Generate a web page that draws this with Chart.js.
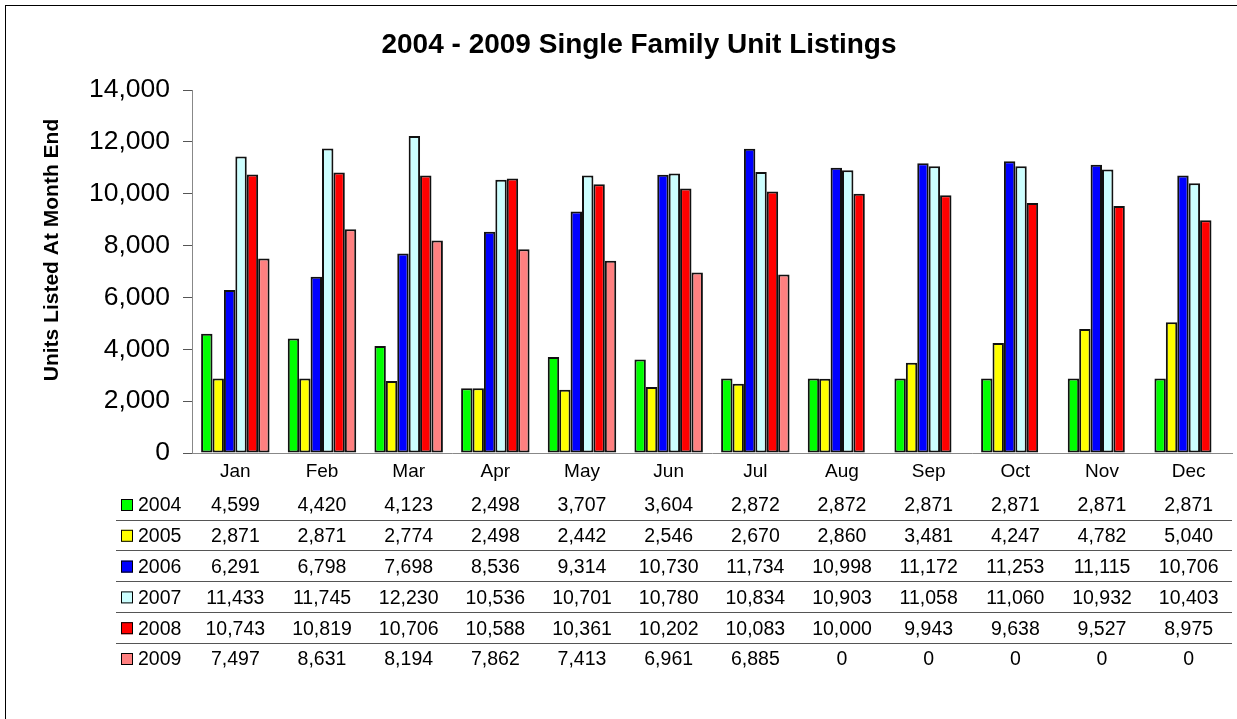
<!DOCTYPE html>
<html>
<head>
<meta charset="utf-8">
<script src="https://cdn.jsdelivr.net/npm/chart.js@4"></script>
<style>
  html, body { margin: 0; padding: 0; background: #fff; }
  #wrap { width: 1237px; height: 719px; position: relative; }
</style>
</head>
<body>
<div id="wrap"><canvas id="c" width="1237" height="719"></canvas></div>
<script>
const months = ['Jan','Feb','Mar','Apr','May','Jun','Jul','Aug','Sep','Oct','Nov','Dec'];
const years = ['2004','2005','2006','2007','2008','2009'];
const y2004 = [4599,4420,4123,2498,3707,3604,2872,2872,2871,2871,2871,2871];
const y2005 = [2871,2871,2774,2498,2442,2546,2670,2860,3481,4247,4782,5040];
const y2006 = [6291,6798,7698,8536,9314,10730,11734,10998,11172,11253,11115,10706];
const y2007 = [11433,11745,12230,10536,10701,10780,10834,10903,11058,11060,10932,10403];
const y2008 = [10743,10819,10706,10588,10361,10202,10083,10000,9943,9638,9527,8975];
const y2009 = [7497,8631,8194,7862,7413,6961,6885,0,0,0,0,0];
const yTicks = [0,2000,4000,6000,8000,10000,12000,14000];
const titleText = '2004 - 2009 Single Family Unit Listings';
const yTitleText = 'Units Listed At Month End';

const seriesValues = [y2004, y2005, y2006, y2007, y2008, y2009];
const colors = ['#00FF00','#FFFF00','#0000FF','#CCFFFF','#FF0000','#FF8080'];
const FONT = '"Liberation Sans", Arial, Helvetica, sans-serif';
const fmt = v => v.toLocaleString('en-US');

const tablePlugin = {
  id: 'dataTable',
  afterDraw(chart) {
    const ctx = chart.ctx;
    const xs = chart.scales.x;
    ctx.save();
    // outer frame (left & top visible)
    ctx.strokeStyle = '#000';
    ctx.lineWidth = 1;
    ctx.strokeRect(5.5, 5.5, 1400, 900);
    // y axis title
    ctx.save();
    ctx.translate(52, 250);
    ctx.rotate(-Math.PI / 2);
    ctx.font = 'bold 21px ' + FONT;
    ctx.fillStyle = '#000';
    ctx.textAlign = 'center';
    ctx.textBaseline = 'middle';
    ctx.fillText(yTitleText, 0, 0);
    ctx.restore();
    // table
    const rowTop = 505, rowH = 30.8;
    ctx.font = '19.5px ' + FONT;
    ctx.textBaseline = 'middle';
    chart.data.datasets.forEach((ds, i) => {
      const cy = rowTop + i * rowH;
      // legend key
      ctx.fillStyle = ds.backgroundColor;
      ctx.fillRect(121, cy - 6, 12, 12);
      ctx.strokeStyle = '#000';
      ctx.lineWidth = 1;
      ctx.strokeRect(121.5, cy - 5.5, 11, 11);
      ctx.fillStyle = '#000';
      ctx.textAlign = 'left';
      ctx.fillText(ds.label, 138, cy + 1);
      ctx.textAlign = 'center';
      ds.data.forEach((v, j) => {
        ctx.fillText(fmt(v), xs.getPixelForValue(j), cy + 1);
      });
      if (i < chart.data.datasets.length - 1) {
        const ly = Math.round(cy + 14.5) + 0.5;
        ctx.strokeStyle = '#555';
        ctx.beginPath();
        ctx.moveTo(116, ly);
        ctx.lineTo(1232, ly);
        ctx.stroke();
      }
    });
    ctx.restore();
  }
};

new Chart(document.getElementById('c'), {
  type: 'bar',
  data: {
    labels: months,
    datasets: years.map((y, i) => ({
      label: y,
      data: seriesValues[i],
      backgroundColor: colors[i],
      borderColor: '#111',
      borderWidth: c => (c.raw === 0 ? 0 : 2),
      borderSkipped: false,
      barPercentage: 1,
      categoryPercentage: 0.79
    }))
  },
  options: {
    responsive: false,
    animation: false,
    layout: { padding: { left: 46, top: 0, right: 5, bottom: 0 } },
    plugins: {
      legend: { display: false },
      tooltip: { enabled: false },
      title: {
        display: true,
        text: titleText,
        color: '#000',
        font: { family: FONT, size: 28, weight: 'bold', lineHeight: 1.2 },
        padding: { top: 28.2, bottom: 28.2 }
      }
    },
    scales: {
      x: {
        grid: { display: false, drawTicks: false },
        border: { display: true, color: '#888', width: 1 },
        ticks: { color: '#000', font: { family: FONT, size: 19 }, padding: 7, maxRotation: 0 },
        afterFit: s => { s.height = 266; }
      },
      y: {
        min: 0, max: 14000,
        afterBuildTicks: s => { s.ticks = yTicks.map(v => ({ value: v })); },
        grid: { drawOnChartArea: false, drawTicks: true, tickLength: 9, color: '#555' },
        border: { display: true, color: '#888', width: 1 },
        ticks: { color: '#000', font: { family: FONT, size: 26.5 }, padding: 13, callback: v => fmt(v) },
        afterFit: s => { s.width = 146; }
      }
    }
  },
  plugins: [tablePlugin]
});
</script>
</body>
</html>
